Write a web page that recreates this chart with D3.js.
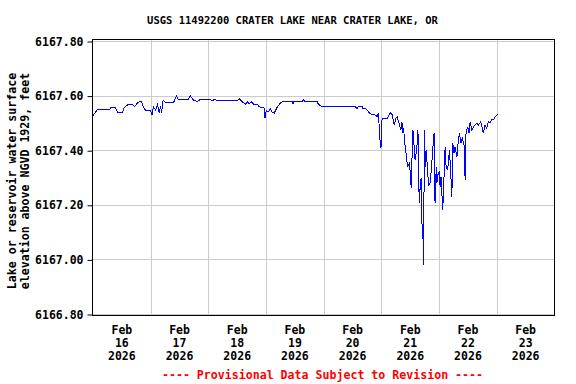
<!DOCTYPE html>
<html>
<head>
<meta charset="utf-8">
<script src="https://cdn.jsdelivr.net/npm/d3@7"></script>
<style>
  body { margin: 0; background: #fff; }
  svg text { font-family: "DejaVu Sans Mono", monospace; font-weight: bold; }
</style>
</head>
<body>
<svg id="chart" width="576" height="384"></svg>
<script>
// Gage height readings, hours after 2026-02-16 00:00
let hours = [0, 1.9, 6.9, 7.5, 9.4, 10.2, 12.3, 12.9, 14.8, 16.4, 17.3, 18.5, 20.0, 20.9, 21.8, 23.9,
  24.6, 25.1, 26.0, 26.8, 27.6, 28.1, 28.5, 29.2, 30.1, 33.5, 34.7, 35.5, 39.7, 40.5, 41.8, 43.4,
  44.7, 48.8, 49.7, 50.5, 52.2, 60.1, 60.9, 62.1, 63.4, 64.2, 65.0, 65.9, 66.7, 68.4, 68.8, 69.6,
  71.1, 71.6, 72.1, 72.9, 73.8, 74.6, 75.4, 76.7, 77.9, 78.8, 82.9, 83.2, 83.5, 87.1, 87.5, 88.3,
  93.3, 93.7, 95.4, 109.1, 109.9, 110.3, 112.0, 112.4, 113.2, 114.1, 115.3, 117.4, 118.2, 118.8,
  119.2, 119.8, 120.2, 120.7, 122.4, 122.8, 123.9, 124.5, 125.3, 126.1, 126.5, 127.4, 128.1, 128.5,
  128.9, 129.2, 129.9, 130.2, 130.6, 131.0, 131.7, 132.0, 132.4, 132.7, 133.1, 133.6, 134.0, 134.7,
  135.2, 135.4, 135.8, 136.1, 136.5, 136.8, 137.2, 137.5, 137.9, 138.3, 138.6, 138.9, 139.6, 140.3,
  141.0, 141.6, 141.9, 142.3, 142.8, 143.1, 143.3, 143.7, 144.1, 144.4, 144.8, 145.5, 146.1, 146.5,
  146.9, 147.5, 147.9, 148.3, 148.9, 149.3, 149.7, 150.2, 150.6, 151.4, 152.0, 152.5, 153.0, 153.6,
  154.5, 154.8, 155.1, 155.5, 155.9, 156.5, 156.9, 157.6, 158.3, 159.0, 159.7, 160.3, 161.3, 161.7,
  162.4, 163.1, 163.8, 164.5, 165.2, 165.9, 166.6, 167.3, 168.0, 168.7];

let elevation = [6167.527, 6167.550, 6167.550, 6167.556, 6167.556, 6167.539, 6167.539, 6167.556,
  6167.568, 6167.568, 6167.559, 6167.573, 6167.581, 6167.559, 6167.547, 6167.547,
  6167.529, 6167.559, 6167.547, 6167.566, 6167.536, 6167.562, 6167.537, 6167.584, 6167.574, 6167.574,
  6167.599, 6167.586, 6167.586, 6167.599, 6167.584, 6167.578,
  6167.586, 6167.586, 6167.581, 6167.586, 6167.581, 6167.581, 6167.588, 6167.577, 6167.569, 6167.577,
  6167.569, 6167.578, 6167.569, 6167.569, 6167.562, 6167.557,
  6167.557, 6167.517, 6167.547, 6167.540, 6167.551, 6167.537, 6167.536, 6167.559, 6167.572, 6167.578,
  6167.578, 6167.569, 6167.578, 6167.578, 6167.584, 6167.578,
  6167.578, 6167.569, 6167.559, 6167.559, 6167.553, 6167.559, 6167.559, 6167.551, 6167.553, 6167.547,
  6167.533, 6167.529, 6167.523, 6167.536,
  6167.456, 6167.407, 6167.511, 6167.517, 6167.517, 6167.523, 6167.539, 6167.529, 6167.492, 6167.518,
  6167.523, 6167.496, 6167.474, 6167.504,
  6167.463, 6167.481, 6167.408, 6167.390, 6167.358, 6167.340, 6167.352, 6167.315, 6167.260, 6167.364,
  6167.474, 6167.413, 6167.364, 6167.407,
  6167.474, 6167.303, 6167.206, 6167.266, 6167.297, 6167.132, 6167.120, 6166.980, 6167.474, 6167.340,
  6167.401, 6167.364, 6167.273, 6167.280,
  6167.358, 6167.431, 6167.462, 6167.207, 6167.340, 6167.280, 6167.303, 6167.316, 6167.320, 6167.266,
  6167.303, 6167.181, 6167.315, 6167.413,
  6167.340, 6167.327, 6167.358, 6167.401, 6167.303, 6167.230, 6167.425, 6167.389, 6167.413, 6167.376,
  6167.437, 6167.462, 6167.425, 6167.444,
  6167.413, 6167.291, 6167.456, 6167.474, 6167.486, 6167.462, 6167.504, 6167.474, 6167.486, 6167.492,
  6167.499, 6167.492, 6167.504, 6167.489,
  6167.462, 6167.492, 6167.480, 6167.504, 6167.499, 6167.513, 6167.511, 6167.523, 6167.529, 6167.529];

let yTicks = [6166.8, 6167.0, 6167.2, 6167.4, 6167.6, 6167.8];
let dayLabels = ["16", "17", "18", "19", "20", "21", "22", "23"];

const startDate = new Date(2026, 1, 16);
const endDate = new Date(2026, 1, 24);
const hourMs = 3600 * 1000;

let svg = d3.select("svg#chart");

let xScale = d3.scaleTime()
  .domain([startDate, endDate])
  .range([93, 554.5]);

let yScale = d3.scaleLinear()
  .domain([6166.8, 6167.8])
  .range([314, 41]);

// gridlines
let grid = svg.append("g").attr("id", "grid")
  .attr("stroke", "#cccccc")
  .attr("stroke-width", 1);

grid.selectAll("line.h")
  .data(yTicks)
  .enter().append("line")
  .attr("class", "h")
  .attr("x1", 93).attr("x2", 554)
  .attr("y1", d => Math.round(yScale(d)) + 0.5)
  .attr("y2", d => Math.round(yScale(d)) + 0.5);

let midnights = d3.timeDay.range(d3.timeDay.offset(startDate, 1), endDate);
grid.selectAll("line.v")
  .data(midnights)
  .enter().append("line")
  .attr("class", "v")
  .attr("y1", 40).attr("y2", 315)
  .attr("x1", d => Math.round(xScale(d)) + 0.5)
  .attr("x2", d => Math.round(xScale(d)) + 0.5);

// data line
let points = hours.map((h, i) => ({ date: new Date(startDate.getTime() + h * hourMs), value: elevation[i] }));

let line = d3.line()
  .x(d => xScale(d.date))
  .y(d => yScale(d.value));

svg.append("path")
  .datum(points)
  .attr("fill", "none")
  .attr("stroke", "#0000ff")
  .attr("stroke-width", 1)
  .attr("shape-rendering", "crispEdges")
  .attr("d", line);

// frame
svg.append("rect")
  .attr("x", 92.5).attr("y", 39.5)
  .attr("width", 462).attr("height", 276)
  .attr("fill", "none")
  .attr("stroke", "#000")
  .attr("stroke-width", 1);

// y axis
let yAxis = d3.axisLeft(yScale)
  .tickValues(yTicks)
  .tickFormat(d3.format(".2f"))
  .tickSize(5)
  .tickSizeOuter(0);

let yGroup = svg.append("g")
  .attr("transform", translate(92.5, 0.5))
  .call(yAxis);
yGroup.select(".domain").remove();
yGroup.selectAll("text")
  .attr("font-size", "11.5px")
  .attr("font-family", null)
  .attr("x", -9)
  .attr("fill", "#000");

// x axis labels (at noon of each day)
let noons = dayLabels.map((d, i) => d3.timeHour.offset(startDate, 24 * i + 12));
let xLabels = svg.append("g").attr("id", "x-labels")
  .attr("font-size", "11.5px")
  .attr("text-anchor", "middle");

let lab = xLabels.selectAll("text")
  .data(noons)
  .enter().append("text")
  .attr("x", d => xScale(d))
  .attr("y", 334);
lab.append("tspan").attr("x", d => xScale(d)).attr("y", 334).text("Feb");
lab.append("tspan").attr("x", d => xScale(d)).attr("y", 347).text((d, i) => dayLabels[i]);
lab.append("tspan").attr("x", d => xScale(d)).attr("y", 360).text("2026");

// title
svg.append("text")
  .attr("x", 292.5).attr("y", 24)
  .attr("text-anchor", "middle")
  .attr("font-size", "10.5px")
  .text("USGS 11492200 CRATER LAKE NEAR CRATER LAKE, OR");

// y title
let yTitle = svg.append("g").attr("transform", translate(0, 181) + " rotate(-90)");
yTitle.append("text")
  .attr("x", 0).attr("y", 15.5)
  .attr("text-anchor", "middle")
  .attr("font-size", "11.6px")
  .text("Lake or reservoir water surface");
yTitle.append("text")
  .attr("x", 0).attr("y", 28.5)
  .attr("text-anchor", "middle")
  .attr("font-size", "11.6px")
  .text("elevation above NGVD 1929, feet");

// provisional note
svg.append("text")
  .attr("x", 322.5).attr("y", 379)
  .attr("text-anchor", "middle")
  .attr("font-size", "11.6px")
  .attr("fill", "#ff0000")
  .text("---- Provisional Data Subject to Revision ----");

function translate(x, y) {
  return 'translate(' + String(x) + ',' + String(y) + ')';
}
</script>
</body>
</html>
